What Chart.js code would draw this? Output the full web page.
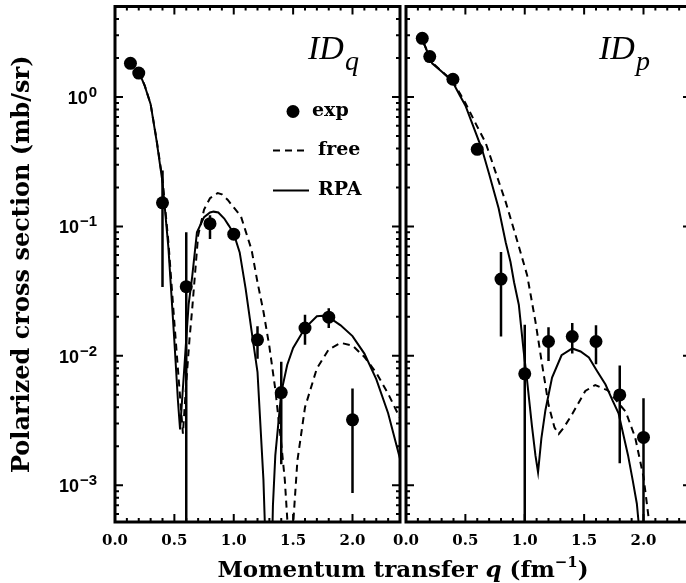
<!DOCTYPE html>
<html>
<head>
<meta charset="utf-8">
<script src="https://cdn.jsdelivr.net/npm/chart.js@4.4.1/dist/chart.umd.min.js"></script>
<style>
  html, body { margin: 0; padding: 0; background: #fff; overflow: hidden; }
  #wrap { position: relative; width: 686px; height: 583px; overflow: hidden; background: #fff; }
  canvas { position: absolute; top: 0; }
</style>
</head>
<body>
<div id="wrap">
  <canvas id="chartQ" width="686" height="583" style="left:0"></canvas>
  <canvas id="chartP" width="340" height="583" style="left:380px"></canvas>
</div>
<script>
// ---- ID_q panel (left) ----
const qExpQ  = [0.13, 0.2, 0.4, 0.6, 0.8, 1.0, 1.2, 1.4, 1.6, 1.8, 2.0];
const expQ   = [1.82, 1.53, 0.152, 0.0342, 0.105, 0.087, 0.0133, 0.0052, 0.0164, 0.0199, 0.0032];
const expQLo = [1.82, 1.53, 0.034, 0.00001, 0.080, 0.087, 0.0095, 0.00145, 0.0122, 0.0164, 0.00087];
const expQHi = [1.82, 1.53, 0.27, 0.090, 0.122, 0.087, 0.0169, 0.0090, 0.0208, 0.0233, 0.0056];

const qRpaQ = [0.20, 0.25, 0.30, 0.35, 0.40, 0.45, 0.50, 0.53, 0.548, 0.58, 0.60, 0.62, 0.65, 0.69, 0.75, 0.80, 0.83, 0.87, 0.92, 0.96, 1.00, 1.05, 1.10, 1.15, 1.20, 1.25, 1.27, 1.29, 1.31, 1.33, 1.35, 1.40, 1.45, 1.50, 1.60, 1.70, 1.75, 1.80, 1.90, 2.00, 2.10, 2.20, 2.30, 2.40];
const rpaQ  = [1.58, 1.22, 0.88, 0.46, 0.22, 0.068, 0.013, 0.0045, 0.0027, 0.0072, 0.0135, 0.025, 0.041, 0.090, 0.118, 0.128, 0.130, 0.128, 0.115, 0.101, 0.088, 0.063, 0.033, 0.0156, 0.0075, 0.0011, 0.0003, 0.00001, 0.0001, 0.0007, 0.0017, 0.0052, 0.0085, 0.0115, 0.0164, 0.0202, 0.0204, 0.0199, 0.0172, 0.0142, 0.0104, 0.0066, 0.0036, 0.0016];

const qFreeQ = [0.20, 0.25, 0.30, 0.35, 0.40, 0.45, 0.50, 0.54, 0.572, 0.60, 0.628, 0.65, 0.70, 0.75, 0.80, 0.865, 0.90, 0.95, 1.00, 1.06, 1.10, 1.15, 1.20, 1.25, 1.30, 1.35, 1.40, 1.43, 1.46, 1.48, 1.50, 1.536, 1.60, 1.70, 1.80, 1.90, 2.00, 2.10, 2.20, 2.30, 2.40];
const freeQ  = [1.58, 1.23, 0.88, 0.47, 0.23, 0.075, 0.018, 0.006, 0.0025, 0.0062, 0.0137, 0.023, 0.085, 0.135, 0.165, 0.181, 0.177, 0.160, 0.140, 0.120, 0.092, 0.066, 0.037, 0.022, 0.0118, 0.0055, 0.0021, 0.0011, 0.0004, 0.00001, 0.0005, 0.00155, 0.0040, 0.0080, 0.0112, 0.0126, 0.0120, 0.0098, 0.0074, 0.0051, 0.0033];

// ---- ID_p panel (right) ----
const qExpP  = [0.137, 0.2, 0.395, 0.6, 0.8, 1.0, 1.2, 1.4, 1.6, 1.8, 2.0];
const expP   = [2.84, 2.05, 1.37, 0.394, 0.0392, 0.00726, 0.0129, 0.0141, 0.0129, 0.00499, 0.00234];
const expPLo = [2.84, 2.05, 1.37, 0.394, 0.0141, 0.00001, 0.0091, 0.0104, 0.0086, 0.00148, 0.00001];
const expPHi = [2.84, 2.05, 1.37, 0.394, 0.0635, 0.0174, 0.0166, 0.0179, 0.0172, 0.0084, 0.0047];

const qRpaP = [0.15, 0.22, 0.30, 0.39, 0.45, 0.50, 0.55, 0.64, 0.70, 0.78, 0.84, 0.88, 0.91, 0.95, 0.99, 1.02, 1.06, 1.09, 1.112, 1.14, 1.174, 1.23, 1.31, 1.40, 1.47, 1.54, 1.61, 1.68, 1.74, 1.79, 1.84, 1.87, 1.91, 1.944, 1.97, 2.00];
const rpaP  = [2.6, 1.82, 1.57, 1.32, 1.04, 0.86, 0.65, 0.394, 0.254, 0.138, 0.075, 0.053, 0.037, 0.0248, 0.011, 0.0064, 0.0029, 0.0017, 0.00126, 0.0023, 0.0038, 0.0068, 0.0101, 0.0114, 0.0108, 0.0097, 0.0076, 0.0060, 0.0045, 0.0036, 0.00225, 0.0017, 0.00108, 0.00072, 0.0004, 0.0001];

const qFreeP = [0.15, 0.22, 0.30, 0.39, 0.50, 0.60, 0.67, 0.75, 0.84, 0.93, 1.02, 1.09, 1.146, 1.20, 1.25, 1.286, 1.33, 1.40, 1.51, 1.594, 1.70, 1.85, 1.93, 2.00, 2.05, 2.09];
const freeP  = [2.6, 1.84, 1.58, 1.34, 0.90, 0.59, 0.444, 0.27, 0.154, 0.081, 0.042, 0.0184, 0.0086, 0.0042, 0.0028, 0.00249, 0.0028, 0.00355, 0.00535, 0.00595, 0.0054, 0.0037, 0.00234, 0.00116, 0.0005, 0.0002];

// log axis labels: 10 with exponent
const yTickValues = [0.001, 0.01, 0.1, 1];
const yTickExps = ['−3', '−2', '−1', '0'];

const SERIF = "'DejaVu Serif', serif";
const SANS = "'Liberation Sans', 'DejaVu Sans', sans-serif";

function pts(xs, ys) {
  return xs.map((x, i) => ({ x: x, y: ys[i] }));
}

// error bars as one broken line: lo -> hi, then a gap
function bars(xs, lo, hi) {
  const out = [];
  xs.forEach((x, i) => {
    if (hi[i] > lo[i]) out.push({ x: x, y: lo[i] }, { x: x, y: hi[i] }, { x: x, y: null });
  });
  return out;
}

// box with inward ticks on all four sides
const frame = {
  id: 'frame',
  afterDatasetsDraw(chart) {
    const { ctx, chartArea: a, scales: { x, y } } = chart;
    ctx.save();
    ctx.strokeStyle = '#000';
    ctx.lineWidth = 2;
    ctx.beginPath();
    for (let i = 0; i <= 24; i++) {
      const px = x.getPixelForValue(i / 10);
      const len = i % 5 === 0 ? 8 : 4;
      ctx.moveTo(px, a.bottom); ctx.lineTo(px, a.bottom - len);
      ctx.moveTo(px, a.top); ctx.lineTo(px, a.top + len);
    }
    for (let e = -4; e <= 0; e++) {
      for (let m = 1; m <= 9; m++) {
        const v = m * Math.pow(10, e);
        if (v < y.min || v > y.max) continue;
        const py = y.getPixelForValue(v);
        const len = m === 1 ? 8 : 4;
        ctx.moveTo(a.left, py); ctx.lineTo(a.left + len, py);
        ctx.moveTo(a.right, py); ctx.lineTo(a.right - len, py);
      }
    }
    ctx.stroke();
    ctx.lineWidth = 3;
    ctx.strokeRect(a.left, a.top, a.right - a.left, a.bottom - a.top);
    ctx.restore();
  }
};

// "10" plus raised exponent, right-aligned left of the axis
const yLabels = {
  id: 'yLabels',
  afterDraw(chart) {
    const { ctx, chartArea: a, scales: { y } } = chart;
    ctx.save();
    ctx.fillStyle = '#000';
    ctx.textBaseline = 'alphabetic';
    ctx.textAlign = 'left';
    yTickValues.forEach((v, i) => {
      const py = y.getPixelForValue(v);
      ctx.font = 'bold 15px ' + SANS;
      const we = ctx.measureText(yTickExps[i]).width;
      ctx.font = 'bold 18px ' + SANS;
      const wb = ctx.measureText('10').width;
      const x0 = a.left - 18 - we - 1 - wb;
      ctx.fillText('10', x0, py + 7);
      ctx.font = 'bold 15px ' + SANS;
      ctx.fillText(yTickExps[i], x0 + wb + 1, py);
    });
    ctx.restore();
  }
};

// italic panel name with subscript, e.g. ID_q
const panelLabel = {
  id: 'panelLabel',
  afterDraw(chart, args, opts) {
    const { ctx, chartArea: a } = chart;
    ctx.save();
    ctx.fillStyle = '#000';
    ctx.textBaseline = 'alphabetic';
    ctx.textAlign = 'left';
    ctx.font = "italic 34px 'Liberation Serif', serif";
    const x0 = a.right - 92;
    ctx.fillText(opts.main, x0, a.top + 52);
    const w = ctx.measureText(opts.main).width;
    ctx.font = "italic 28px 'Liberation Serif', serif";
    ctx.fillText(opts.sub, x0 + w + 1, a.top + 63);
    ctx.restore();
  }
};

// legend inside the left panel
const innerLegend = {
  id: 'innerLegend',
  afterDraw(chart) {
    const { ctx, chartArea: a } = chart;
    const ds = chart.data.datasets;
    const exp = ds[0], rpa = ds[2], free = ds[3];
    const x1 = a.right - 127, x2 = a.right - 91, xt = a.right - 82;
    const rows = [a.top + 105, a.top + 144, a.top + 184];
    ctx.save();
    ctx.fillStyle = '#000';
    ctx.strokeStyle = '#000';
    ctx.beginPath();
    ctx.arc(a.right - 107, rows[0], exp.pointRadius, 0, Math.PI * 2);
    ctx.fill();
    ctx.lineWidth = free.borderWidth;
    ctx.setLineDash(free.borderDash);
    ctx.beginPath(); ctx.moveTo(x1, rows[1]); ctx.lineTo(x2, rows[1]); ctx.stroke();
    ctx.setLineDash([]);
    ctx.lineWidth = rpa.borderWidth;
    ctx.beginPath(); ctx.moveTo(x1, rows[2]); ctx.lineTo(x2, rows[2]); ctx.stroke();
    ctx.font = 'bold 19px ' + SERIF;
    ctx.textBaseline = 'middle';
    ctx.fillText(exp.label, xt - 6, rows[0]);
    ctx.fillText(free.label, xt, rows[1]);
    ctx.fillText(rpa.label, xt, rows[2]);
    ctx.restore();
  }
};

// x title shared by both panels
const sharedTitle = {
  id: 'sharedTitle',
  afterDraw(chart) {
    const { ctx } = chart;
    const parts = [
      { t: 'Momentum transfer ', f: 'bold 23px ' + SERIF, dy: 0 },
      { t: 'q', f: 'italic bold 23px ' + SERIF, dy: 0 },
      { t: ' (fm', f: 'bold 23px ' + SERIF, dy: 0 },
      { t: '−1', f: 'bold 15px ' + SERIF, dy: -10 },
      { t: ')', f: 'bold 23px ' + SERIF, dy: 0 }
    ];
    ctx.save();
    ctx.fillStyle = '#000';
    ctx.textBaseline = 'alphabetic';
    ctx.textAlign = 'left';
    let total = 0;
    parts.forEach(p => { ctx.font = p.f; p.w = ctx.measureText(p.t).width; total += p.w; });
    let x = 403 - total / 2;
    parts.forEach(p => { ctx.font = p.f; ctx.fillText(p.t, x, 577 + p.dy); x += p.w; });
    ctx.restore();
  }
};

function makePanel(id, pad, d, showY, extra) {
  return new Chart(document.getElementById(id), {
    type: 'line',
    data: {
      datasets: [
        { label: 'exp', type: 'scatter', data: pts(d.qExp, d.exp), pointRadius: 6.5,
          pointBackgroundColor: '#000', pointBorderWidth: 0, showLine: false },
        { label: 'err', data: bars(d.qExp, d.lo, d.hi), borderColor: '#000', borderWidth: 2.5,
          pointRadius: 0, spanGaps: false },
        { label: 'RPA', data: pts(d.qRpa, d.rpa), borderColor: '#000', borderWidth: 2, pointRadius: 0 },
        { label: 'free', data: pts(d.qFree, d.free), borderColor: '#000', borderWidth: 2,
          borderDash: [7, 5], pointRadius: 0 }
      ]
    },
    options: {
      responsive: false,
      animation: false,
      devicePixelRatio: 1,
      events: [],
      layout: { padding: pad },
      plugins: {
        legend: { display: false },
        tooltip: { enabled: false },
        panelLabel: { main: 'ID', sub: d.sub }
      },
      scales: {
        x: {
          type: 'linear', min: 0, max: 2.4,
          grid: { display: false, drawTicks: false },
          border: { display: false },
          ticks: {
            stepSize: 0.5, includeBounds: false, padding: 10, maxRotation: 0, autoSkip: false,
            color: '#000', font: { family: SERIF, weight: 'bold', size: 15 },
            callback: v => Number(v).toFixed(1)
          },
          afterFit(s) { s.height = 61; s.paddingLeft = 0; s.paddingRight = 0; }
        },
        y: {
          type: 'logarithmic', min: 5.2e-4, max: 5.0,
          display: showY,
          grid: { display: false, drawTicks: false },
          border: { display: false },
          ticks: { display: false },
          title: {
            display: true, text: 'Polarized cross section (mb/sr)', color: '#000',
            font: { family: SERIF, weight: 'bold', size: 24 },
            padding: { top: 8, bottom: 0 }
          },
          afterFit(s) { if (showY) s.width = 115; s.paddingTop = 0; s.paddingBottom = 0; }
        }
      }
    },
    plugins: [frame, panelLabel].concat(extra)
  });
}

makePanel('chartQ', { left: 0, top: 3, right: 286, bottom: 0 }, {
  qExp: qExpQ, exp: expQ, lo: expQLo, hi: expQHi,
  qRpa: qRpaQ, rpa: rpaQ, qFree: qFreeQ, free: freeQ, sub: 'q'
}, true, [yLabels, innerLegend, sharedTitle]);

makePanel('chartP', { left: 26, top: 3, right: 29, bottom: 0 }, {
  qExp: qExpP, exp: expP, lo: expPLo, hi: expPHi,
  qRpa: qRpaP, rpa: rpaP, qFree: qFreeP, free: freeP, sub: 'p'
}, false, []);
</script>
</body>
</html>
